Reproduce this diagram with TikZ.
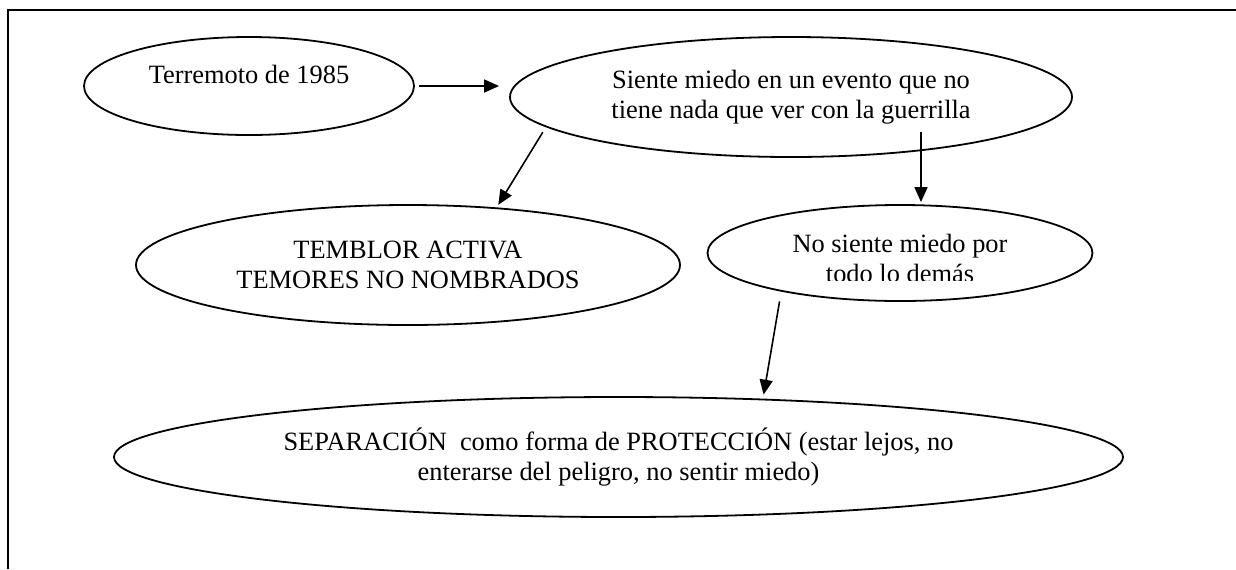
\documentclass[tikz,border=0pt]{standalone}
\usepackage{fontspec}
\setmainfont{Liberation Serif}
\usetikzlibrary{shapes.geometric,arrows.meta}
\begin{document}
\begin{tikzpicture}[x = 0.5pt, y = -0.5pt,
        bubble/.style = {draw, black, line width=0.9pt, ellipse, inner sep=0pt, align=center, font=\fontsize{13.2}{15}\selectfont},
        link/.style = {black, line width=0.8pt, -{Triangle[length=7.5pt, width=6.5pt]}}]
            \useasboundingbox (0,0) rectangle (1236,569);
            \draw[black, line width=1pt] (8,569) -- (8,10) -- (1236,10);
            \node[bubble, minimum width=165pt, minimum height=49pt, text depth=12pt] (terremoto) at (249,86) {Terremoto de 1985};
            \node[bubble, minimum width=281pt, minimum height=60pt] (siente) at (791,97) {Siente miedo en un evento que no\\tiene nada que ver con la guerrilla};
            \node[bubble, minimum width=272pt, minimum height=60pt] (temblor) at (408,265) {TEMBLOR ACTIVA\\TEMORES NO NOMBRADOS};
            \node[bubble, minimum width=192.5pt, minimum height=48pt] (nosiente) at (900,253) {};
            \begin{scope}
                \clip (700,200) rectangle (1100,280);
                \node[bubble, draw=none] (nosientetext) at (900,258) {No siente miedo por\\todo lo demás};
            \end{scope}
            \node[bubble, minimum width=504.5pt, minimum height=60pt] (separacion) at (618.5,457) {SEPARACIÓN~ como forma de PROTECCIÓN (estar lejos, no\\enterarse del peligro, no sentir miedo)};
            \coordinate (sientefoot) at (921,132);
            \draw[link, shorten <=2pt, shorten >=5pt] (terremoto.east) -- (siente.west |- terremoto.east);
            \draw[link, shorten <=3pt, shorten >=1.5pt] (siente.187) -- (temblor.33);
            \draw[link, shorten >=1pt] (sientefoot) -- (sientefoot |- nosiente.north);
            \draw[link, shorten <=5pt, shorten >=2pt] (nosiente.198) -- (separacion.22);
        \end{tikzpicture}
\end{document}
